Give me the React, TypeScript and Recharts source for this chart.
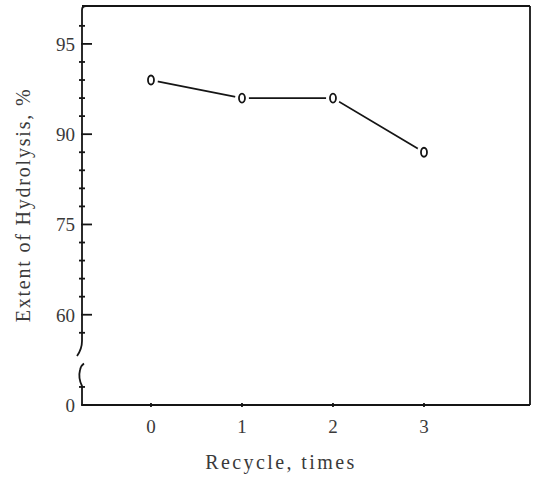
import React from "react";
import { LineChart, Line, XAxis, YAxis, ReferenceLine } from "recharts";

// ---- data ----
const recycles = [0, 1, 2, 3];
const extent = [93, 92, 92, 87];
const yTickLabels = [0, 60, 75, 90, 95];
const xTicks = [0, 1, 2, 3];
const xTitle = "Recycle, times";
const yTitle = "Extent of Hydrolysis, %";

// piecewise (broken) value scale: each labelled value sits at an equally spaced position
const toPos = (v: number) => {
  for (let i = 0; i < yTickLabels.length - 1; i++) {
    const a = yTickLabels[i];
    const b = yTickLabels[i + 1];
    if (v <= b) return i + (v - a) / (b - a);
  }
  const n = yTickLabels.length;
  return n - 1 + (v - yTickLabels[n - 1]) / (yTickLabels[n - 1] - yTickLabels[n - 2]);
};

const data = recycles.map((r, i) => ({ r, v: extent[i], pos: toPos(extent[i]) }));

const Y_MAX = 4.42;
const X_MIN = -0.758;
const X_MAX = 4.165;

const yTicks: number[] = [0, 0.2];
for (let k = 4; k <= 21; k++) yTicks.push(Math.round(k * 0.2 * 1000) / 1000);

const FONT = "'Liberation Serif', 'DejaVu Serif', serif";
const INK = "#151515";
const TXT = "#3a3a3a";

const YTick = (p: any) => {
  const { x, y, payload } = p;
  const v = payload.value as number;
  const major = Math.abs(v - Math.round(v)) < 1e-6;
  if (major) {
    return (
      <g>
        <line x1={x - 1} y1={y} x2={x + 10} y2={y} stroke={INK} strokeWidth={1.8} />
        <text x={x - 7} y={y + 7} textAnchor="end" fontFamily={FONT} fontSize={19} fill={TXT}>
          {String(yTickLabels[Math.round(v)])}
        </text>
      </g>
    );
  }
  return <line x1={x - 3} y1={y} x2={x + 3} y2={y} stroke={INK} strokeWidth={1.8} />;
};

const XTick = (p: any) => {
  const { x, y, payload } = p;
  return (
    <g>
      <line x1={x} y1={y - 2} x2={x} y2={y + 2} stroke={INK} strokeWidth={1.8} />
      <text x={x} y={y + 28} textAnchor="middle" fontFamily={FONT} fontSize={19} fill={TXT}>
        {String(payload.value)}
      </text>
    </g>
  );
};

const Dot = (p: any) => {
  const { cx, cy } = p;
  if (cx == null || cy == null) return <g />;
  return (
    <g>
      <ellipse cx={cx} cy={cy} rx={7} ry={8} fill="#fff" />
      <ellipse cx={cx} cy={cy} rx={3} ry={4.5} fill="#fff" stroke={INK} strokeWidth={1.8} />
    </g>
  );
};

const UpperAxis = (p: any) => {
  const { x1, y1, x2, y2 } = p;
  const d = `M ${x1 + 4} ${y1} Q ${x1} ${y1} ${x1} ${y1 + 4} L ${x2} ${y2} Q ${x2} ${y2 + 8} ${x2 - 5} ${y2 + 15}`;
  return <path d={d} fill="none" stroke={INK} strokeWidth={1.8} />;
};

const LowerAxis = (p: any) => {
  const { x1, y1, y2 } = p;
  const d = `M ${x1} ${y1} L ${x1} ${y1 - 19} Q ${x1 - 4} ${y1 - 27} ${x1 - 2} ${y1 - 35} Q ${x1 - 1} ${y2 + 2} ${x1 + 2} ${y2}`;
  return <path d={d} fill="none" stroke={INK} strokeWidth={1.8} />;
};

export default function App() {
  return (
    <div style={{ position: "absolute", left: 0, top: 0, width: 542, height: 481, background: "#fff" }}>
      <LineChart
        width={542}
        height={481}
        data={data}
        margin={{ top: 6, right: 12, bottom: 0, left: 0 }}
      >
        <XAxis
          dataKey="r"
          type="number"
          domain={[X_MIN, X_MAX]}
          ticks={xTicks}
          interval={0}
          allowDataOverflow
          height={76}
          tickSize={0}
          tickMargin={0}
          tickLine={false}
          axisLine={{ stroke: INK, strokeWidth: 1.8 }}
          tick={<XTick />}
          label={{
            content: () => (
              <text x={281} y={469} textAnchor="middle" fontFamily={FONT} fontSize={20} letterSpacing={2.4} fill={TXT}>
                {xTitle}
              </text>
            ),
          }}
        />
        <YAxis
          type="number"
          domain={[0, Y_MAX]}
          ticks={yTicks}
          interval={0}
          allowDataOverflow
          width={82}
          tickSize={0}
          tickMargin={0}
          tickLine={false}
          axisLine={false}
          tick={<YTick />}
          label={{
            content: () => (
              <text
                x={30}
                y={205}
                transform="rotate(-90, 30, 205)"
                textAnchor="middle"
                fontFamily={FONT}
                fontSize={20}
                letterSpacing={1.8}
                fill={TXT}
              >
                {yTitle}
              </text>
            ),
          }}
        />
        <ReferenceLine y={Y_MAX} stroke={INK} strokeWidth={1.8} ifOverflow="visible" />
        <ReferenceLine x={X_MAX} stroke={INK} strokeWidth={1.8} ifOverflow="visible" />
        <ReferenceLine
          segment={[{ x: X_MIN, y: Y_MAX }, { x: X_MIN, y: 0.71 }]}
          ifOverflow="visible"
          shape={<UpperAxis />}
        />
        <ReferenceLine
          segment={[{ x: X_MIN, y: 0 }, { x: X_MIN, y: 0.46 }]}
          ifOverflow="visible"
          shape={<LowerAxis />}
        />
        <Line
          dataKey="pos"
          type="linear"
          stroke={INK}
          strokeWidth={1.8}
          dot={<Dot />}
          activeDot={false}
          isAnimationActive={false}
        />
      </LineChart>
    </div>
  );
}
